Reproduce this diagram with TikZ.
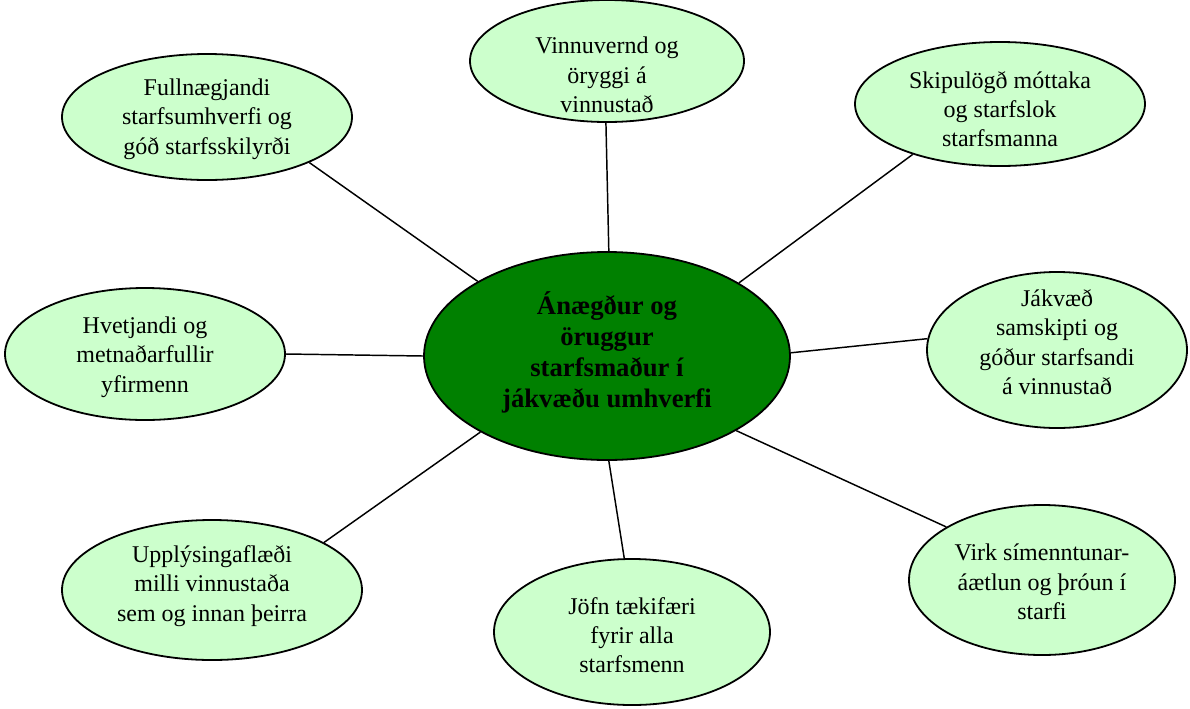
\documentclass[tikz,border=0pt]{standalone}
\usepackage{fontspec}
\setmainfont{Liberation Serif}
\usetikzlibrary{shapes.geometric,calc}
\definecolor{lightg}{RGB}{204,255,204}
\definecolor{darkg}{RGB}{0,128,0}
\begin{document}
\begin{tikzpicture}[x=0.75pt,y=-0.75pt,
  bub/.style={ellipse, draw=black, line width=1.35pt, fill=lightg, inner sep=0pt},
  hub/.style={ellipse, draw=black, line width=1.35pt, fill=darkg, inner sep=0pt},
  btext/.style={align=center, inner sep=0pt, font=\fontsize{18}{22}\selectfont},
  htext/.style={align=center, inner sep=0pt, font=\fontsize{20}{23.2}\selectfont\bfseries},
  link/.style={line width=1.1pt}]
\useasboundingbox (0,0) rectangle (1190,708);
% ellipses
\node[hub, minimum width=274.5pt, minimum height=156pt] (c) at (607,356) {};
\node[bub, minimum width=217.5pt, minimum height=94.5pt] (tl) at (207,117) {};
\node[bub, minimum width=205.5pt, minimum height=91.5pt] (tm) at (607,61) {};
\node[bub, minimum width=217.5pt, minimum height=93pt] (tr) at (1000,104) {};
\node[bub, minimum width=210pt, minimum height=99pt] (l) at (145,354) {};
\node[bub, minimum width=195pt, minimum height=117pt] (r) at (1057,350) {};
\node[bub, minimum width=225pt, minimum height=105pt] (bl) at (212,590) {};
\node[bub, minimum width=207pt, minimum height=109.5pt] (bm) at (632,632) {};
\node[bub, minimum width=199.5pt, minimum height=112.5pt] (br) at (1042,580) {};
% texts
\node[htext] (ct) at ($(c)+(0,-4)$) {Ánægður og\\ öruggur\\ starfsmaður í\\ jákvæðu umhverfi};
\node[btext] (tlt) at ($(tl)+(0,2)$) {Fullnægjandi\\ starfsumhverfi og\\ góð starfsskilyrði};
\node[btext] (tmt) at ($(tm)+(0,14)$) {Vinnuvernd og\\ öryggi á\\ vinnustað};
\node[btext] (trt) at ($(tr)+(0,5)$) {Skipulögð móttaka\\ og starfslok\\ starfsmanna};
\node[btext] (lt) at ($(l)+(0,3)$) {Hvetjandi og\\ metnaðarfullir\\ yfirmenn};
\node[btext] (rt) at ($(r)+(0,-8)$) {Jákvæð\\ samskipti og\\ góður starfsandi\\ á vinnustað};
\node[btext] (blt) at ($(bl)+(0,-4)$) {Upplýsingaflæði\\ milli vinnustaða\\ sem og innan þeirra};
\node[btext] (bmt) at ($(bm)+(0,3)$) {Jöfn tækifæri\\ fyrir alla\\ starfsmenn};
\node[btext] (brt) at ($(br)+(0,2)$) {Virk símenntunar-\\ áætlun og þróun í\\ starfi};
% connectors
\draw[link] (tl.-24) -- (c.150);
\draw[link] (tm.-91.5) -- (c.89);
\draw[link] (tr.-150) -- (c.29.5);
\draw[link] (l.0) -- (c.180);
\draw[link] (r.175.6) -- (c.1);
\draw[link] (bl.23) -- (c.-149.5);
\draw[link] (bm.96) -- (c.-89.5);
\draw[link] (br.151.6) -- (c.-30);
\end{tikzpicture}
\end{document}
